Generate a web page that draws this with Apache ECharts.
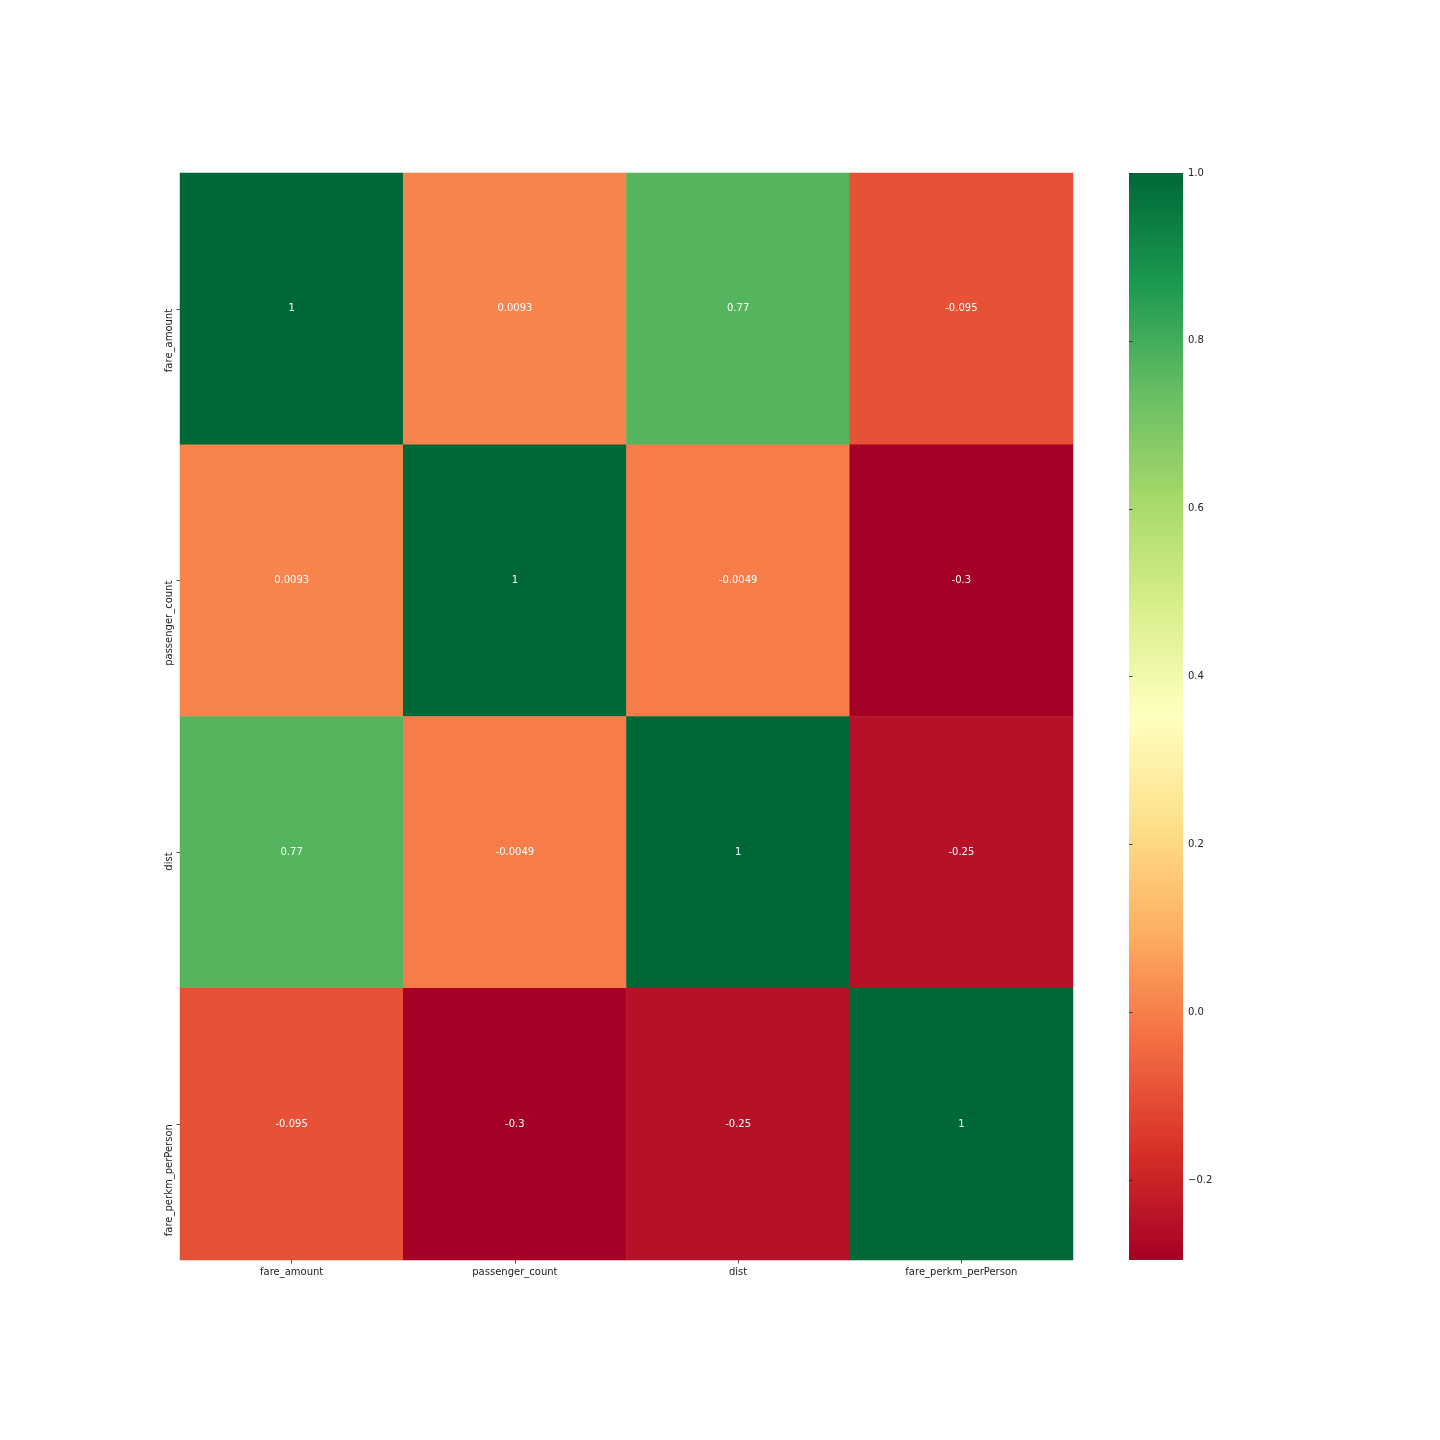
<!DOCTYPE html>
<html>
<head>
<meta charset="utf-8">
<script src="https://cdn.jsdelivr.net/npm/echarts@6/dist/echarts.min.js"></script>
<style>html,body{margin:0;padding:0;background:#fff}#c{width:1440px;height:1440px}</style>
</head>
<body>
<div id="c"></div>
<script>
const labels = ['fare_amount', 'passenger_count', 'dist', 'fare_perkm_perPerson'];
const row0 = [1, 0.0093, 0.77, -0.095];
const row1 = [0.0093, 1, -0.0049, -0.3];
const row2 = [0.77, -0.0049, 1, -0.25];
const row3 = [-0.095, -0.3, -0.25, 1];
const rows = [row0, row1, row2, row3];
const cbTicks = [-0.2, 0.0, 0.2, 0.4, 0.6, 0.8, 1.0];
const scaleMin = -0.295, scaleMax = 1.0;
const cmap = ['#a50026','#d73027','#f46d43','#fdae61','#fee08b','#ffffbf','#d9ef8b','#a6d96a','#66bd63','#1a9850','#006837'];

const data = [];
rows.forEach((r, i) => r.forEach((v, j) => data.push([j, i, v])));

const font = 'DejaVu Sans';
const gradient = {
  type: 'linear', x: 0, y: 1, x2: 0, y2: 0,
  colorStops: cmap.map((c, i) => ({offset: i / (cmap.length - 1), color: c}))
};
const chart = echarts.init(document.getElementById('c'), null, {renderer: 'canvas'});
chart.setOption({
  backgroundColor: '#ffffff',
  animation: false,
  grid: [
    {left: 180, top: 173, width: 893, height: 1087},
    {left: 1129, top: 173, width: 54, height: 1087, show: true, borderWidth: 0, backgroundColor: gradient}
  ],
  xAxis: [
    {type: 'category', data: labels, gridIndex: 0, position: 'bottom',
     axisLine: {show: false}, splitLine: {show: false},
     axisTick: {show: true, alignWithLabel: true, length: 3.5, lineStyle: {color: '#222', width: 0.8}},
     axisLabel: {color: '#222', fontFamily: font, fontSize: 10, margin: 7}},
    {type: 'value', gridIndex: 1, show: false, min: 0, max: 1}
  ],
  yAxis: [
    {type: 'category', data: labels, gridIndex: 0, inverse: true,
     axisLine: {show: false}, splitLine: {show: false},
     axisTick: {show: true, alignWithLabel: true, length: 3.5, lineStyle: {color: '#222', width: 0.8}},
     axisLabel: {color: '#222', fontFamily: font, fontSize: 10, rotate: 90, margin: 6, align: 'right'}},
    {type: 'value', gridIndex: 1, position: 'right', min: scaleMin, max: scaleMax,
     axisLine: {show: false}, splitLine: {show: false},
     axisTick: {show: true, length: 3.5, customValues: cbTicks, lineStyle: {color: '#222', width: 0.8}},
     axisLabel: {color: '#222', fontFamily: font, fontSize: 10, margin: 5, customValues: cbTicks,
       formatter: v => (v < 0 ? '\u2212' : '') + Math.abs(v).toFixed(1)}}
  ],
  visualMap: {
    type: 'continuous', min: scaleMin, max: scaleMax, show: false,
    seriesIndex: 0, inRange: {color: cmap}
  },
  series: [{
    type: 'heatmap', xAxisIndex: 0, yAxisIndex: 0, data: data,
    label: {show: true, color: '#ffffff', fontFamily: font, fontSize: 10,
      formatter: p => String(p.value[2])},
    itemStyle: {borderWidth: 0},
    emphasis: {disabled: true}
  }]
});
</script>
</body>
</html>
